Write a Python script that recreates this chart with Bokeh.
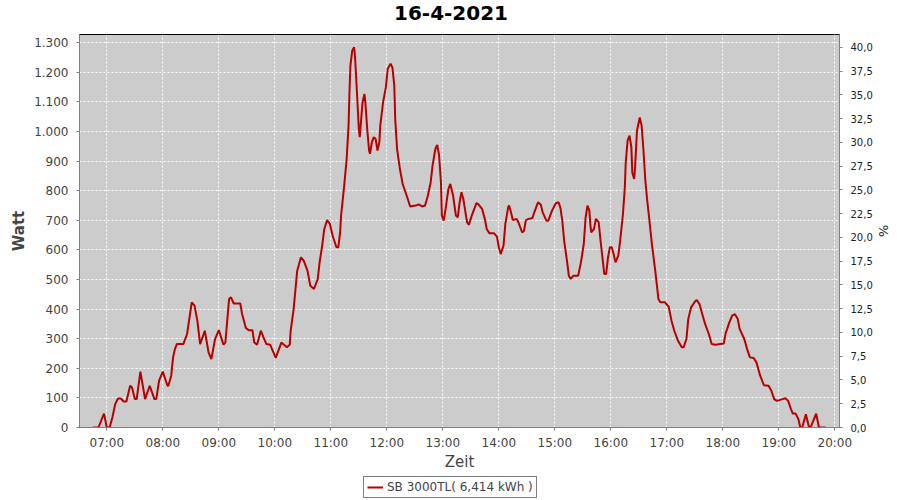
import pandas as pd
from bokeh.plotting import figure
from bokeh.layouts import column
from bokeh.models import (Range1d, LinearAxis, FixedTicker, CustomJSTickFormatter,
                          DatetimeTickFormatter, Legend, LegendItem, ColumnDataSource, Label)
from bokeh.embed import file_html
from bokeh.resources import INLINE

DAY = "2021-04-16"
TITLE = "16-4-2021"
SERIES = "SB 3000TL( 6,414 kWh )"

times = [
    "06:45", "06:51", "06:57", "07:00", "07:03", "07:06", "07:09", "07:12", "07:15", "07:18",
    "07:21", "07:25", "07:27", "07:30", "07:32", "07:36", "07:41", "07:46", "07:51", "07:53",
    "07:56", "08:00", "08:05", "08:06", "08:09", "08:11", "08:13", "08:15", "08:22", "08:26",
    "08:31", "08:34", "08:37", "08:40", "08:45", "08:49", "08:52", "08:56", "09:00", "09:05",
    "09:07", "09:11", "09:13", "09:16", "09:23", "09:25", "09:29", "09:32", "09:36", "09:38",
    "09:41", "09:45", "09:48", "09:51", "09:55", "10:01", "10:07", "10:13", "10:16", "10:17",
    "10:20", "10:22", "10:24", "10:28", "10:31", "10:35", "10:38", "10:42", "10:46", "10:48",
    "10:51", "10:53", "10:56", "10:59", "11:02", "11:06", "11:08", "11:10", "11:11", "11:14",
    "11:17", "11:19", "11:20", "11:21", "11:23", "11:25", "11:26", "11:28", "11:30", "11:31",
    "11:34", "11:36", "11:37", "11:39", "11:41", "11:42", "11:44", "11:46", "11:48", "11:50",
    "11:52", "11:53", "11:56", "11:59", "12:01", "12:04", "12:06", "12:08", "12:09", "12:11",
    "12:14", "12:17", "12:20", "12:23", "12:25", "12:31", "12:34", "12:38", "12:41", "12:44",
    "12:47", "12:49", "12:52", "12:54", "12:56", "12:58", "12:59", "13:01", "13:03", "13:06",
    "13:08", "13:11", "13:14", "13:16", "13:18", "13:20", "13:22", "13:26", "13:28", "13:31",
    "13:36", "13:38", "13:42", "13:45", "13:47", "13:50", "13:55", "13:58", "14:00", "14:02",
    "14:05", "14:07", "14:10", "14:11", "14:13", "14:15", "14:19", "14:21", "14:25", "14:27",
    "14:29", "14:32", "14:36", "14:38", "14:42", "14:45", "14:47", "14:51", "14:53", "14:57",
    "15:01", "15:04", "15:06", "15:08", "15:10", "15:13", "15:15", "15:17", "15:20", "15:25",
    "15:28", "15:31", "15:33", "15:35", "15:37", "15:38", "15:39", "15:42", "15:44", "15:47",
    "15:49", "15:51", "15:53", "15:55", "15:57", "15:59", "16:01", "16:03", "16:05", "16:08",
    "16:10", "16:13", "16:15", "16:16", "16:18", "16:20", "16:22", "16:23", "16:25", "16:26",
    "16:28", "16:31", "16:33", "16:35", "16:37", "16:39", "16:41", "16:44", "16:48", "16:51",
    "16:53", "16:58", "17:02", "17:05", "17:08", "17:12", "17:16", "17:18", "17:21", "17:23",
    "17:26", "17:30", "17:32", "17:35", "17:38", "17:41", "17:45", "17:48", "17:52", "18:01",
    "18:03", "18:07", "18:10", "18:13", "18:16", "18:18", "18:23", "18:26", "18:29", "18:33",
    "18:36", "18:40", "18:44", "18:49", "18:52", "18:55", "18:58", "19:04", "19:07", "19:10",
    "19:13", "19:15", "19:18", "19:21", "19:23", "19:25", "19:29", "19:32", "19:34", "19:40",
    "19:43", "19:50",
]
watts = [
    0, 0, 47, 0, 0, 34, 79, 98, 98, 88,
    88, 141, 135, 96, 96, 189, 96, 141, 96, 96,
    158, 189, 141, 141, 175, 237, 265, 282, 282, 316,
    423, 412, 361, 282, 327, 254, 231, 299, 329, 280,
    287, 434, 440, 419, 419, 383, 336, 329, 329, 287,
    280, 327, 304, 282, 280, 235, 287, 271, 280, 327,
    395, 462, 530, 575, 564, 530, 479, 468, 502, 558,
    620, 671, 701, 688, 648, 609, 609, 659, 716, 806,
    908, 1020, 1133, 1223, 1274, 1285, 1251, 1133, 1009, 981,
    1099, 1127, 1099, 1009, 936, 925, 964, 981, 975, 936,
    964, 1020, 1099, 1150, 1212, 1229, 1217, 1156, 1043, 941,
    874, 823, 795, 767, 747, 750, 754, 747, 750, 784,
    829, 885, 941, 955, 919, 829, 716, 699, 739, 806,
    823, 784, 716, 710, 761, 795, 772, 693, 685, 716,
    758, 755, 739, 705, 671, 656, 656, 645, 609, 586,
    614, 688, 744, 750, 727, 701, 705, 693, 659, 665,
    701, 705, 708, 727, 761, 753, 727, 699, 699, 733,
    758, 761, 742, 699, 631, 564, 513, 502, 513, 513,
    558, 620, 710, 750, 733, 688, 659, 671, 705, 693,
    631, 575, 519, 519, 575, 609, 609, 586, 558, 581,
    631, 721, 812, 896, 970, 986, 947, 862, 840, 879,
    1003, 1048, 1020, 936, 834, 767, 710, 620, 519, 434,
    423, 423, 408, 361, 327, 293, 271, 271, 299, 367,
    406, 425, 431, 417, 383, 350, 316, 282, 280, 284,
    318, 355, 378, 383, 367, 333, 299, 265, 237, 235,
    220, 175, 143, 141, 124, 96, 90, 96, 99, 90,
    62, 47, 47, 28, 0, 0, 45, 5, 0, 47,
    0, 0,
]
x_tick_labels = ["07:00", "08:00", "09:00", "10:00", "11:00", "12:00", "13:00",
                 "14:00", "15:00", "16:00", "17:00", "18:00", "19:00", "20:00"]
watt_ticks = list(range(0, 1301, 100))
pct_ticks = [0, 2.5, 5, 7.5, 10, 12.5, 15, 17.5, 20, 22.5, 25, 27.5, 30, 32.5, 35, 37.5, 40]

FONT = "DejaVu Sans"
RED = "#B80000"

def ts(hm):
    return pd.Timestamp(f"{DAY} {hm}")

src = ColumnDataSource(dict(t=[ts(t) for t in times], w=watts))

# ---- title strip (its frame is aligned with the chart frame: x 79..839) ----
t = figure(width=900, height=34, output_backend="svg", toolbar_location=None, title=None,
           x_axis_location=None, y_axis_location=None,
           x_range=Range1d(79, 839), y_range=Range1d(0, 34),
           min_border_left=0, min_border_right=0, min_border_top=0, min_border_bottom=0)
t.grid.visible = False
t.outline_line_color = None
t.background_fill_color = "white"
t.border_fill_color = "white"
t.add_layout(Label(x=450.5, y=21.5, text=TITLE, text_align="center", text_baseline="middle",
                   text_font=FONT, text_font_size="20px", text_font_style="bold",
                   text_color="black"))

# ---- main chart ----
p = figure(width=900, height=441, x_axis_type="datetime", output_backend="svg",
           toolbar_location=None, title=None,
           x_range=Range1d(ts("06:30:45"), ts("20:05")),
           y_range=Range1d(0, 1328),
           min_border_left=79, min_border_right=61, min_border_top=0, min_border_bottom=48)

p.background_fill_color = "#CCCCCC"
p.border_fill_color = "white"
p.outline_line_color = "black"
p.outline_line_width = 1

r = p.line("t", "w", source=src, line_color=RED, line_width=2)

for g in (p.xgrid[0], p.ygrid[0]):
    g.grid_line_color = "white"
    g.grid_line_dash = "2 2"
    g.grid_line_width = 1

xa = p.xaxis[0]
xa.ticker = FixedTicker(ticks=[ts(h).value // 10**6 for h in x_tick_labels])
xa.formatter = DatetimeTickFormatter(hours="%H:%M", minutes="%H:%M", days="%H:%M")
xa.axis_label = "Zeit"

ya = p.yaxis[0]
ya.ticker = FixedTicker(ticks=watt_ticks)
ya.formatter = CustomJSTickFormatter(code="""
    var s = Math.round(tick).toString();
    return s.replace(/\\B(?=(\\d{3})+(?!\\d))/g, '.');
""")
ya.axis_label = "Watt"

p.extra_y_ranges = {"pct": Range1d(0, 41.34)}
ra = LinearAxis(y_range_name="pct", axis_label="%")
ra.ticker = FixedTicker(ticks=pct_ticks)
ra.formatter = CustomJSTickFormatter(code="return tick.toFixed(1).replace('.', ',');")
p.add_layout(ra, "right")

for ax in (xa, ya, ra):
    ax.axis_line_color = "#808080"
    ax.major_tick_line_color = "#808080"
    ax.major_tick_out = 3
    ax.major_tick_in = 0
    ax.minor_tick_line_color = None
    ax.major_label_text_font = FONT
    ax.major_label_text_font_size = "12px"
    ax.major_label_text_color = "#444444"
    ax.major_label_standoff = 8
    ax.axis_label_text_font = FONT
    ax.axis_label_text_font_size = "15px"
    ax.axis_label_text_font_style = "bold"
    ax.axis_label_text_color = "#444444"
    ax.axis_label_standoff = 3

xa.axis_label_text_font_style = "normal"
xa.axis_label_standoff = 0
xa.major_label_standoff = 5
ra.major_label_text_font_size = "10px"
ra.major_label_text_color = "#222222"
ra.axis_label_text_font_size = "13px"
ra.axis_label_text_font_style = "normal"
ra.axis_label_text_color = "#222222"
ra.axis_label_standoff = 0

# ---- legend strip (frame aligned at x 79; the series line lies outside its view) ----
q = figure(width=900, height=25, output_backend="svg", toolbar_location=None, title=None,
           x_axis_location=None, y_axis_location=None,
           x_range=Range1d(0, 1), y_range=Range1d(0, 1),
           min_border_left=0, min_border_right=0, min_border_top=0, min_border_bottom=0)
q.grid.visible = False
q.outline_line_color = None
q.background_fill_color = "white"
q.border_fill_color = "white"
rq = q.line("t", "w", source=src, line_color=RED, line_width=2)

legend = Legend(items=[LegendItem(label=SERIES, renderers=[rq])],
                location=(284, 2), orientation="horizontal")
legend.border_line_color = "black"
legend.border_line_width = 1
legend.label_text_font = FONT
legend.label_text_font_size = "12px"
legend.label_text_color = "#444444"
legend.padding = 3
legend.margin = 0
legend.spacing = 0
legend.glyph_width = 16
legend.glyph_height = 14
legend.label_standoff = 4
legend.label_height = 14
legend.background_fill_color = "white"
q.add_layout(legend)

layout = column(t, p, q, spacing=0)
open("out.html", "w").write(file_html(layout, INLINE))
